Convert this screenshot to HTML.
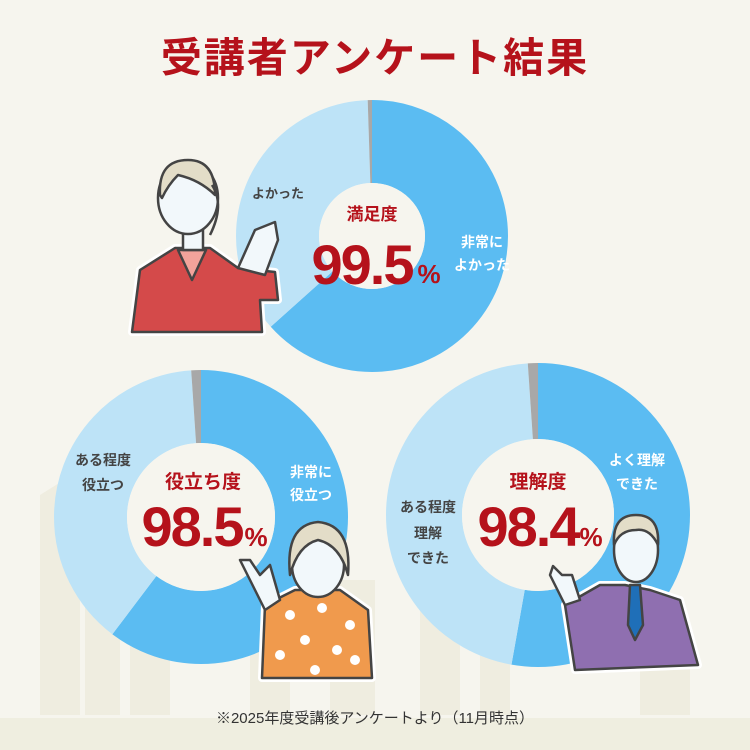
<!DOCTYPE html>
<html><head><meta charset="utf-8"><style>
body{margin:0;background:#f6f5ee;}
svg{display:block}
text{font-family:"Liberation Sans","Noto Sans CJK JP",sans-serif}
</style></head><body>
<svg width="750" height="750" viewBox="0 0 750 750">
<rect width="750" height="750" fill="#f6f5ee"/>
<g fill="#efede0">
<polygon points="40,495 80,470 80,715 40,715"/>
<rect x="85" y="560" width="35" height="155"/>
<rect x="130" y="620" width="40" height="95"/>
<rect x="250" y="560" width="40" height="155"/>
<rect x="330" y="580" width="45" height="135"/>
<rect x="420" y="600" width="40" height="115"/>
<rect x="480" y="560" width="30" height="155"/>
<rect x="640" y="620" width="50" height="95"/>
</g>
<rect x="0" y="718" width="750" height="32" fill="#efeee0"/>

<text x="375" y="72" text-anchor="middle" font-size="41" font-weight="bold" fill="#b5121b" letter-spacing="2">受講者アンケート結果</text>

<g transform="translate(372,236) rotate(-90)" fill="none" stroke-width="83">
<circle r="94.5" stroke="#5bbcf2" stroke-dasharray="376.1 1000"/>
<circle r="94.5" stroke="#bde3f7" stroke-dasharray="0 376.1 214.4 1000"/>
<circle r="94.5" stroke="#a8a8a8" stroke-dasharray="0 590.5 3.3 1000"/>
</g>
<circle cx="372" cy="236" r="53" fill="#f6f5ee"/>
<text x="372" y="220" text-anchor="middle" font-size="17" font-weight="bold" fill="#b5121b">満足度</text>
<text x="362" y="284" text-anchor="middle" font-size="56" font-weight="bold" fill="#b5121b" letter-spacing="-2">99.5</text>
<text x="429" y="283" text-anchor="middle" font-size="26" font-weight="bold" fill="#b5121b">%</text>
<text x="278" y="198" text-anchor="middle" font-size="13" font-weight="bold" fill="#444">よかった</text>
<text x="482" y="247" text-anchor="middle" font-size="14" font-weight="bold" fill="#fff">非常に</text>
<text x="482" y="270" text-anchor="middle" font-size="14" font-weight="bold" fill="#fff">よかった</text>

<g stroke="#444" stroke-width="2.5" stroke-linejoin="round">
<path d="M132,332 L140,270 L175,248 L210,248 L238,268 L275,272 L278,300 L260,300 L262,332 Z" fill="#d44a4a" stroke="#fff" stroke-width="8"/>
<path d="M132,332 L140,270 L175,248 L210,248 L238,268 L275,272 L278,300 L260,300 L262,332 Z" fill="#d44a4a"/>
<path d="M178,250 L192,280 L206,250 Z" fill="#f2a39b"/>
<path d="M238,268 L255,230 L275,222 L278,240 L265,275 Z" fill="#f2f8fb"/>
<rect x="183" y="225" width="20" height="25" fill="#f2f8fb"/>
<ellipse cx="188" cy="198" rx="30" ry="36" fill="#f2f8fb"/>
<path d="M160,195 Q158,160 188,160 Q215,160 215,195 Q200,180 178,175 Q168,185 162,198 Z" fill="#e3ddc8"/>
<path d="M212,185 Q225,205 210,235" fill="none"/>
</g>

<g transform="translate(201,517) rotate(-90)" fill="none" stroke-width="73">
<circle r="110.5" stroke="#5bbcf2" stroke-dasharray="418.5 1000"/>
<circle r="110.5" stroke="#bde3f7" stroke-dasharray="0 418.5 268.1 1000"/>
<circle r="110.5" stroke="#a8a8a8" stroke-dasharray="0 686.6 7.7 1000"/>
</g>
<circle cx="201" cy="517" r="74" fill="#f6f5ee"/>
<text x="203" y="488" text-anchor="middle" font-size="19" font-weight="bold" fill="#b5121b">役立ち度</text>
<text x="192" y="546" text-anchor="middle" font-size="56" font-weight="bold" fill="#b5121b" letter-spacing="-2">98.5</text>
<text x="256" y="546" text-anchor="middle" font-size="26" font-weight="bold" fill="#b5121b">%</text>
<text x="103" y="465" text-anchor="middle" font-size="14" font-weight="bold" fill="#444">ある程度</text>
<text x="103" y="490" text-anchor="middle" font-size="14" font-weight="bold" fill="#444">役立つ</text>
<text x="311" y="477" text-anchor="middle" font-size="14" font-weight="bold" fill="#fff">非常に</text>
<text x="311" y="500" text-anchor="middle" font-size="14" font-weight="bold" fill="#fff">役立つ</text>

<g stroke="#444" stroke-width="2.5" stroke-linejoin="round">
<path d="M262,678 L265,605 L295,590 L340,590 L368,610 L372,678 Z" fill="#f09a4d" stroke="#fff" stroke-width="8"/>
<path d="M262,678 L265,605 L295,590 L340,590 L368,610 L372,678 Z" fill="#f09a4d"/>
<path d="M265,610 L245,570 L240,560 L250,560 L260,575 L270,565 L280,600 Z" fill="#f2f8fb"/>
<ellipse cx="318" cy="565" rx="26" ry="32" fill="#f2f8fb"/>
<path d="M290,575 Q285,525 318,522 Q352,525 348,575 Q340,545 318,540 Q298,545 290,575 Z" fill="#e3ddc8"/>
</g>
<g fill="#fff"><circle cx="290" cy="615" r="5"/><circle cx="322" cy="608" r="5"/><circle cx="350" cy="625" r="5"/><circle cx="305" cy="640" r="5"/><circle cx="337" cy="650" r="5"/><circle cx="280" cy="655" r="5"/><circle cx="355" cy="660" r="5"/><circle cx="315" cy="670" r="5"/></g>

<g transform="translate(538,515) rotate(-90)" fill="none" stroke-width="76">
<circle r="114" stroke="#5bbcf2" stroke-dasharray="378 1000"/>
<circle r="114" stroke="#bde3f7" stroke-dasharray="0 378 330.3 1000"/>
<circle r="114" stroke="#a8a8a8" stroke-dasharray="0 708.3 8 1000"/>
</g>
<circle cx="538" cy="515" r="76" fill="#f6f5ee"/>
<text x="538" y="488" text-anchor="middle" font-size="19" font-weight="bold" fill="#b5121b">理解度</text>
<text x="528" y="546" text-anchor="middle" font-size="56" font-weight="bold" fill="#b5121b" letter-spacing="-2">98.4</text>
<text x="591" y="546" text-anchor="middle" font-size="26" font-weight="bold" fill="#b5121b">%</text>
<text x="428" y="512" text-anchor="middle" font-size="14" font-weight="bold" fill="#444">ある程度</text>
<text x="428" y="538" text-anchor="middle" font-size="14" font-weight="bold" fill="#444">理解</text>
<text x="428" y="563" text-anchor="middle" font-size="14" font-weight="bold" fill="#444">できた</text>
<text x="637" y="465" text-anchor="middle" font-size="14" font-weight="bold" fill="#fff">よく理解</text>
<text x="637" y="489" text-anchor="middle" font-size="14" font-weight="bold" fill="#fff">できた</text>

<g stroke="#444" stroke-width="2.5" stroke-linejoin="round">
<path d="M575,670 L565,605 L600,585 L625,585 L650,590 L680,600 L698,665 Z" fill="#8f6fb0" stroke="#fff" stroke-width="8"/>
<path d="M575,670 L565,605 L600,585 L625,585 L650,590 L680,600 L698,665 Z" fill="#8f6fb0"/>
<path d="M565,605 L550,575 L553,566 L562,575 L572,575 L580,600 Z" fill="#f2f8fb"/>
<path d="M630,585 L640,585 L643,625 L635,640 L628,625 Z" fill="#1f6fb8"/>
<ellipse cx="636" cy="550" rx="22" ry="32" fill="#f2f8fb"/>
<path d="M614,545 Q612,515 636,515 Q660,515 658,545 Q650,528 636,530 Q620,530 614,545 Z" fill="#e3ddc8"/>
</g>

<text x="375" y="723" text-anchor="middle" font-size="15" fill="#333">※2025年度受講後アンケートより（11月時点）</text>
</svg>
</body></html>
